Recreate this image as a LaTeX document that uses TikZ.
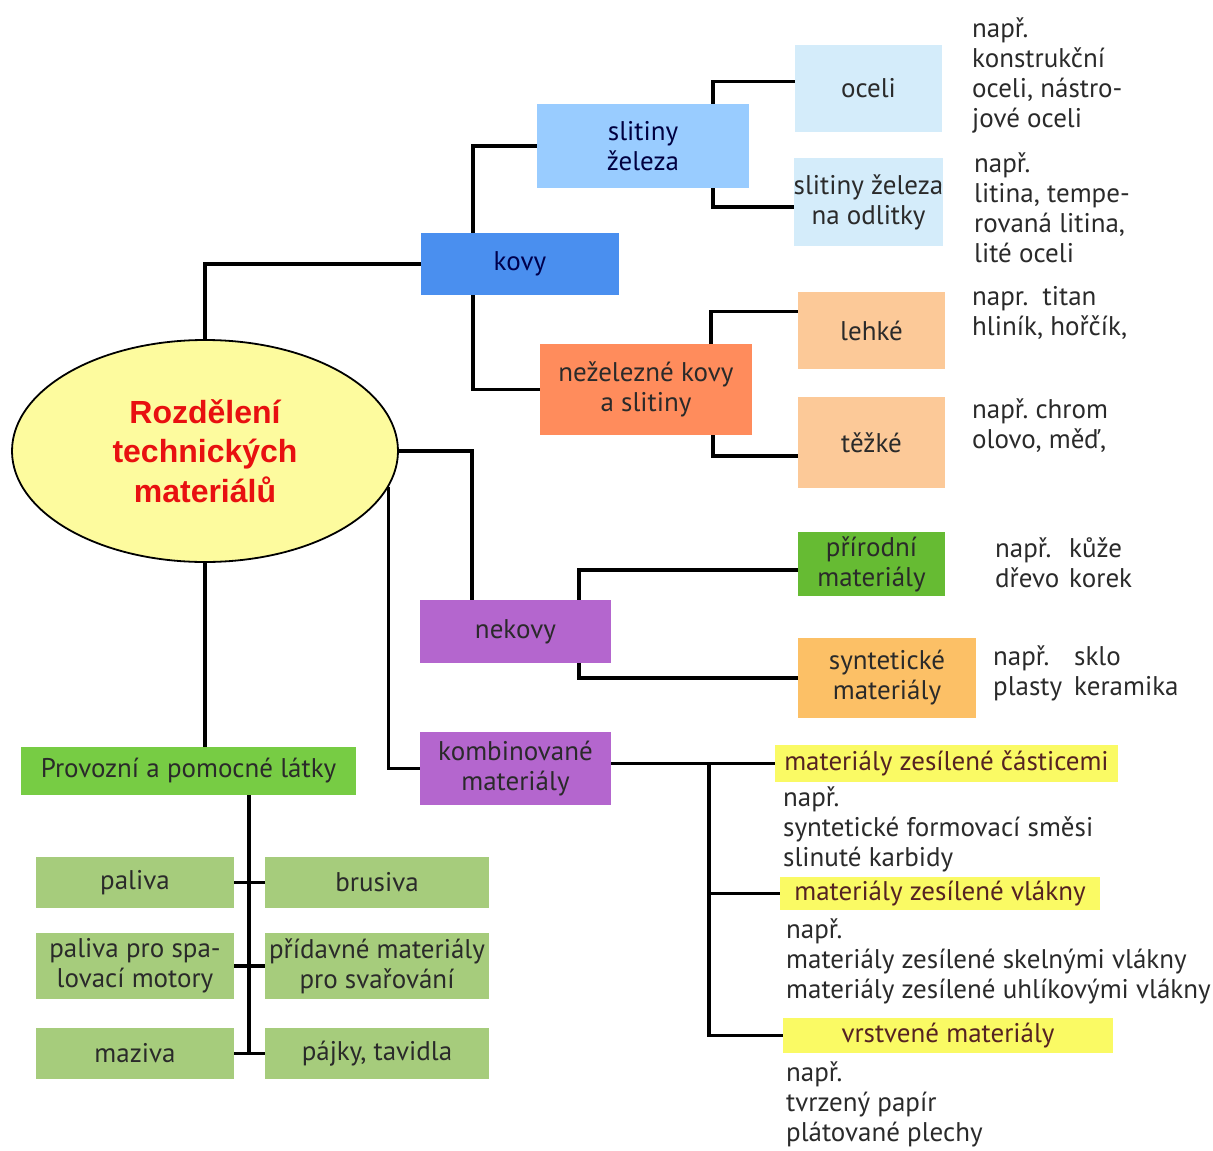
\documentclass[tikz,border=0pt]{standalone}
\usepackage{fontspec}
\setmainfont{PT Sans}
\newfontfamily\titlefont{Liberation Sans}
\usetikzlibrary{shapes.geometric}

\definecolor{ellFill}{HTML}{FDFB9E}
\definecolor{titleRed}{HTML}{E81010}
\definecolor{kovBlue}{HTML}{4A8FEF}
\definecolor{slitBlue}{HTML}{99CCFF}
\definecolor{ocelBlue}{HTML}{D4ECFA}
\definecolor{nezOrange}{HTML}{FF8C5C}
\definecolor{lehPeach}{HTML}{FCC998}
\definecolor{nekPurple}{HTML}{B466CE}
\definecolor{prirGreen}{HTML}{66BB33}
\definecolor{syntOrange}{HTML}{FCC066}
\definecolor{provGreen}{HTML}{77CC44}
\definecolor{latkaGreen}{HTML}{A6CC7C}
\definecolor{zesYellow}{HTML}{FAFA64}
\definecolor{txtGray}{HTML}{2A2A2A}

\begin{document}
\begin{tikzpicture}[x=1pt,y=-1pt,
box/.style={shape=rectangle,inner sep=0pt,align=center,text=txtGray,font=\fontsize{27}{30}\selectfont},
boxK/.style={box,fill=kovBlue,text=blue!30!black,minimum width=198pt,minimum height=62pt},
boxS/.style={box,fill=slitBlue,text=blue!25!black,minimum width=212pt,minimum height=84pt},
boxO/.style={box,fill=ocelBlue,minimum width=147pt,minimum height=87pt},
boxN/.style={box,fill=nezOrange,minimum width=212pt,minimum height=91pt},
boxL/.style={box,fill=lehPeach,minimum width=147pt},
boxP/.style={box,fill=nekPurple,minimum width=191pt},
boxG/.style={box,fill=provGreen},
boxZ/.style={box,fill=zesYellow,text=txtGray!80!red},
note/.style={anchor=north west,inner sep=0pt,align=left,text=txtGray,font=\fontsize{27}{30}\selectfont},
link/.style={line width=3.2pt}]
\def\xR{871.5};
\def\xL{135};
\def\xB{377};

\useasboundingbox (0,0) rectangle (1213,1151);

\node[shape=ellipse,draw=black,line width=1.8pt,fill=ellFill,minimum width=386pt,minimum height=222pt,inner sep=0pt,align=center,text=titleRed,font=\titlefont\bfseries\fontsize{32}{39.5}\selectfont] (ell) at (205,451) {Rozdělení\\technických\\materiálů};

% kovy
\node[boxK] (kovy) at (520,264) {kovy};
\draw[link] (ell.north) |- (kovy.west);
\node[boxS] (slit) at (643,146) {slitiny\\železa};
\draw[link] ([xshift=-47pt]kovy.north) |- (slit.west);
\node[boxN] (nez) at (646,389.5) {neželezné kovy\\a slitiny};
\draw[link] ([xshift=-47pt]kovy.south) |- (nez.west);

\node[boxO] (ocel) at (868.5,88.5) {oceli};
\draw[link] ([xshift=70pt]slit.north) |- ([yshift=7pt]ocel.west);
\node[boxO,minimum height=88pt] (odl) at (868.5,202) {slitiny železa\\na odlitky};
\draw[link] ([xshift=70pt]slit.south) |- ([yshift=-5pt]odl.west);
\node[boxL,minimum height=77pt] (leh) at (\xR,330.5) {lehké};
\draw[link] ([xshift=65pt]nez.north) |- ([yshift=19pt]leh.west);
\node[boxL,minimum height=91pt] (tez) at (\xR,442.5) {těžké};
\draw[link] ([xshift=67pt]nez.south) |- ([yshift=-13.5pt]tez.west);

\node[note] (n1) at (972,18) {např.\\konstrukční\\oceli, nástro-\\jové oceli};
\node[note] (n2) at (974,153) {např.\\litina, tempe-\\rovaná litina,\\lité oceli};
\node[note] (n3) at (972,286) {napr.~~titan\\hliník, hořčík,};
\node[note] (n4) at (972,399) {např.~chrom\\olovo, měď,};

% nekovy
\node[boxP,minimum height=63pt] (nek) at (515.5,631.5) {nekovy};
\draw[link] (ell.east) -| ([xshift=-43.5pt]nek.north);
\node[box,fill=prirGreen,minimum width=147pt,minimum height=64pt] (prir) at (\xR,564) {přírodní\\materiály};
\draw[link] ([xshift=63.5pt]nek.north) |- ([yshift=-6pt]prir.west);
\node[box,fill=syntOrange,minimum width=178pt,minimum height=80pt] (synt) at (887,678) {syntetické\\materiály};
\draw[link] ([xshift=63.5pt]nek.south) |- (synt.west);
\node[note] (n5) at (995,536) {\begin{tabular}{@{}l@{\hspace{10pt}}l@{}}např. & kůže\\dřevo & korek\end{tabular}};
\node[note] (n6) at (993,644) {\begin{tabular}{@{}l@{\hspace{12pt}}l@{}}např. & sklo\\plasty & keramika\end{tabular}};

% kombinovane
\node[boxP,minimum height=73pt] (komb) at (515.5,768.5) {kombinované\\materiály};
\draw[link] (ell.-11) |- (komb.west);
\node[boxZ,minimum width=343pt,minimum height=37pt] (zes1) at (946.5,763.5) {materiály zesílené částicemi};
\node[boxZ,minimum width=320pt,minimum height=33pt] (zes2) at (940,893.5) {materiály zesílené vlákny};
\node[boxZ,minimum width=330pt,minimum height=35pt] (vrst) at (948,1035.5) {vrstvené materiály};
\coordinate (kj) at (709,763.5);
\draw[link] (komb.east |- zes1.west) -- (zes1.west);
\draw[link] (kj) |- (zes2.west);
\draw[link] (kj) |- (vrst.west);
\node[note] (n7) at (783,787) {např.\\syntetické formovací směsi\\slinuté karbidy};
\node[note] (n8) at (786,919) {např.\\materiály zesílené skelnými vlákny\\materiály zesílené uhlíkovými vlákny};
\node[note] (n9) at (786,1062) {např.\\tvrzený papír\\plátované plechy};

% provozni latky
\node[boxG,minimum width=335pt,minimum height=48pt] (prov) at (188.5,771) {Provozní a pomocné látky};
\draw[link] (ell.south) -- (ell.south |- prov.north);
\node[box,fill=latkaGreen,minimum width=198pt,minimum height=51pt] (pal) at (\xL,882.5) {paliva};
\node[box,fill=latkaGreen,minimum width=224pt,minimum height=51pt] (brus) at (\xB,882.5) {brusiva};
\node[box,fill=latkaGreen,minimum width=198pt,minimum height=66pt] (palsp) at (\xL,966) {paliva pro spa-\\lovací motory};
\node[box,fill=latkaGreen,minimum width=224pt,minimum height=66pt] (prid) at (\xB,966) {přídavné materiály\\pro svařování};
\node[box,fill=latkaGreen,minimum width=198pt,minimum height=51pt] (maz) at (\xL,1053.5) {maziva};
\node[box,fill=latkaGreen,minimum width=224pt,minimum height=51pt] (pajky) at (\xB,1053.5) {pájky, tavidla};
\draw[link] ([xshift=60.5pt]prov.south) -- ([xshift=60.5pt]prov.south |- maz.east);
\draw[link] (pal.east) -- (brus.west);
\draw[link] (palsp.east) -- (prid.west);
\draw[link] (maz.east) -- (pajky.west);
\end{tikzpicture}
\end{document}
